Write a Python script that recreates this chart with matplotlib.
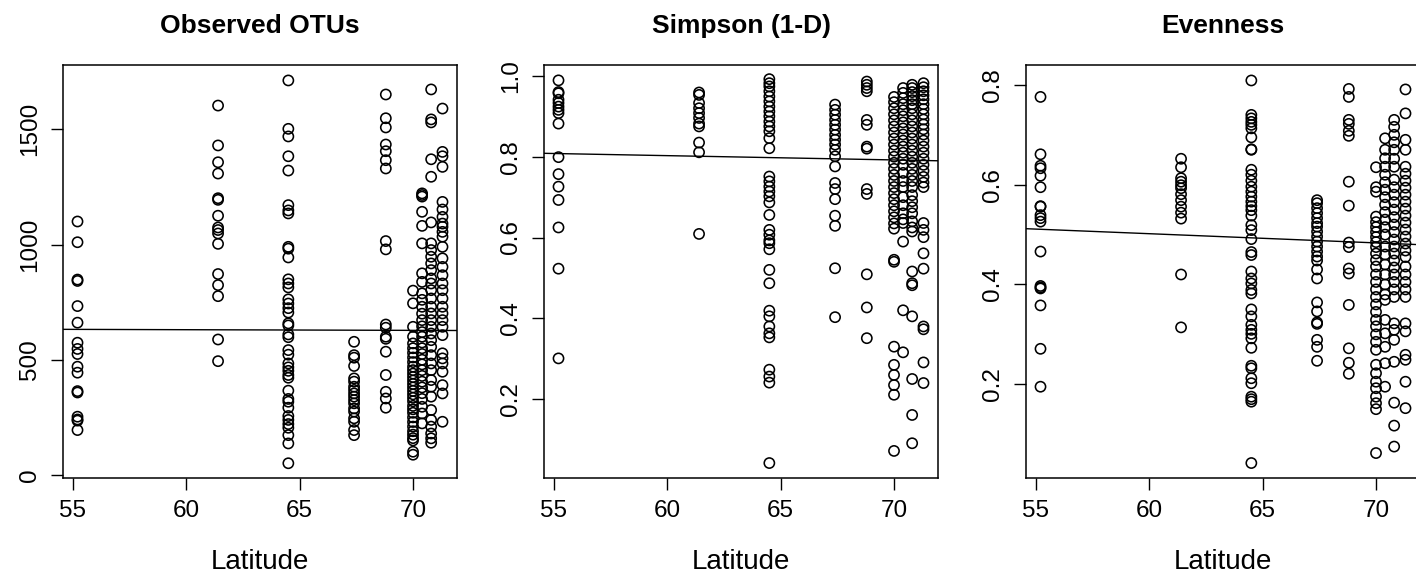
import numpy as np
import matplotlib
matplotlib.use("Agg")
import matplotlib.pyplot as plt

plt.rcParams['font.family'] = ['Liberation Sans', 'DejaVu Sans']

# sampling latitudes (one column of points per site)
lats = [55.2, 61.4, 64.5, 67.4, 68.8, 70.0, 70.4, 70.8, 71.3]

# observed OTUs per site
otus = [
    [1100, 1010, 848, 842, 733, 661, 574, 547, 525, 470, 444, 364, 358, 253, 241, 236, 195],
    [1603, 1430, 1357, 1308, 1201, 1194, 1125, 1074, 1063, 1048, 1003, 872, 824, 776, 588, 494],
    [1712, 1502, 1469, 1383, 1321, 1171, 1148, 1135, 990, 982, 944, 849, 831, 814, 762, 744,
     724, 705, 658, 649, 610, 598, 542, 522, 484, 467, 452, 434, 422, 366, 330, 318, 292, 256,
     239, 221, 205, 173, 137, 51],
    [578, 520, 509, 473, 419, 405, 383, 369, 354, 340, 325, 311, 289, 275, 246, 231, 195, 173],
    [1651, 1548, 1508, 1434, 1405, 1366, 1330, 1015, 979, 653, 639, 600, 591, 535, 434, 361, 332, 292],
    [800, 745, 643, 600, 571, 550, 530, 510, 490, 470, 455, 440, 425, 410, 395, 380, 365, 350,
     335, 320, 300, 285, 270, 250, 230, 210, 190, 175, 160, 150, 101, 88],
    [1222, 1215, 1208, 1142, 1081, 1005, 875, 838, 788, 760, 730, 700, 672, 645, 620, 600, 575,
     550, 525, 500, 480, 455, 430, 405, 380, 355, 330, 296, 267, 224],
    [1673, 1543, 1530, 1370, 1294, 1096, 1005, 976, 947, 918, 889, 853, 831, 802, 766, 730, 701,
     672, 643, 614, 585, 556, 520, 484, 455, 412, 383, 340, 282, 239, 210, 180, 159, 140],
    [1590, 1402, 1383, 1337, 1185, 1152, 1120, 1091, 1077, 1055, 1034, 990, 940, 903, 867, 831,
     802, 766, 730, 701, 672, 643, 607, 528, 506, 484, 448, 390, 354, 231],
]

# Simpson (1-D) per site
simpson = [
    [0.989, 0.960, 0.957, 0.941, 0.933, 0.924, 0.916, 0.908, 0.882, 0.799, 0.757, 0.726, 0.693,
     0.625, 0.523, 0.301],
    [0.959, 0.953, 0.933, 0.920, 0.908, 0.896, 0.882, 0.875, 0.835, 0.811, 0.609],
    [0.992, 0.982, 0.974, 0.962, 0.949, 0.937, 0.924, 0.912, 0.900, 0.887, 0.875, 0.863, 0.846,
     0.821, 0.751, 0.739, 0.726, 0.714, 0.702, 0.687, 0.656, 0.619, 0.607, 0.593, 0.586, 0.571,
     0.520, 0.487, 0.419, 0.405, 0.380, 0.363, 0.353, 0.273, 0.256, 0.241, 0.042],
    [0.929, 0.916, 0.904, 0.891, 0.879, 0.867, 0.854, 0.842, 0.830, 0.817, 0.801, 0.776, 0.735,
     0.720, 0.695, 0.654, 0.629, 0.524, 0.403],
    [0.986, 0.978, 0.970, 0.962, 0.891, 0.879, 0.825, 0.820, 0.720, 0.708, 0.509, 0.427, 0.351],
    [0.948, 0.935, 0.920, 0.905, 0.890, 0.875, 0.860, 0.845, 0.830, 0.815, 0.800, 0.785, 0.770,
     0.755, 0.740, 0.725, 0.710, 0.695, 0.680, 0.665, 0.650, 0.635, 0.622, 0.545, 0.540, 0.330,
     0.285, 0.260, 0.235, 0.211, 0.072],
    [0.970, 0.958, 0.945, 0.930, 0.915, 0.900, 0.885, 0.870, 0.855, 0.840, 0.825, 0.810, 0.795,
     0.780, 0.760, 0.740, 0.725, 0.700, 0.680, 0.660, 0.645, 0.636, 0.590, 0.420, 0.316],
    [0.978, 0.970, 0.960, 0.950, 0.940, 0.930, 0.920, 0.905, 0.890, 0.875, 0.860, 0.845, 0.830,
     0.815, 0.800, 0.785, 0.770, 0.755, 0.740, 0.725, 0.705, 0.690, 0.675, 0.660, 0.640, 0.625,
     0.615, 0.516, 0.487, 0.482, 0.405, 0.250, 0.161, 0.091],
    [0.982, 0.972, 0.962, 0.952, 0.942, 0.930, 0.918, 0.905, 0.892, 0.880, 0.868, 0.855, 0.840,
     0.825, 0.810, 0.795, 0.780, 0.765, 0.750, 0.736, 0.725, 0.636, 0.619, 0.601, 0.561, 0.523,
     0.380, 0.373, 0.291, 0.240],
]

# evenness per site
evenness = [
    [0.776, 0.661, 0.638, 0.633, 0.618, 0.595, 0.557, 0.556, 0.539, 0.533, 0.526, 0.466, 0.397,
     0.394, 0.392, 0.358, 0.271, 0.195],
    [0.652, 0.635, 0.613, 0.606, 0.599, 0.593, 0.581, 0.569, 0.556, 0.544, 0.532, 0.420, 0.314],
    [0.809, 0.740, 0.733, 0.726, 0.720, 0.713, 0.695, 0.671, 0.670, 0.630, 0.620, 0.608, 0.596,
     0.586, 0.576, 0.566, 0.557, 0.549, 0.538, 0.519, 0.509, 0.491, 0.465, 0.459, 0.426, 0.412,
     0.402, 0.389, 0.382, 0.350, 0.336, 0.319, 0.309, 0.301, 0.292, 0.273, 0.237, 0.232, 0.212,
     0.202, 0.175, 0.170, 0.165, 0.042],
    [0.569, 0.563, 0.553, 0.543, 0.533, 0.523, 0.516, 0.506, 0.496, 0.486, 0.476, 0.466, 0.456,
     0.448, 0.430, 0.412, 0.364, 0.346, 0.324, 0.321, 0.289, 0.275, 0.247],
    [0.792, 0.776, 0.730, 0.722, 0.708, 0.698, 0.606, 0.558, 0.484, 0.475, 0.432, 0.422, 0.359,
     0.272, 0.243, 0.221],
    [0.635, 0.595, 0.586, 0.536, 0.525, 0.515, 0.505, 0.495, 0.485, 0.475, 0.462, 0.449, 0.436,
     0.420, 0.405, 0.390, 0.375, 0.360, 0.345, 0.329, 0.316, 0.300, 0.285, 0.269, 0.239, 0.222,
     0.205, 0.192, 0.175, 0.162, 0.150, 0.062],
    [0.693, 0.670, 0.653, 0.636, 0.620, 0.605, 0.590, 0.575, 0.560, 0.545, 0.530, 0.515, 0.500,
     0.476, 0.460, 0.440, 0.420, 0.400, 0.380, 0.369, 0.329, 0.302, 0.275, 0.242, 0.195],
    [0.730, 0.716, 0.700, 0.685, 0.670, 0.652, 0.636, 0.610, 0.595, 0.580, 0.565, 0.550, 0.535,
     0.520, 0.505, 0.490, 0.476, 0.462, 0.448, 0.434, 0.420, 0.405, 0.390, 0.375, 0.322, 0.309,
     0.289, 0.245, 0.163, 0.117, 0.075],
    [0.791, 0.743, 0.690, 0.670, 0.636, 0.622, 0.608, 0.594, 0.580, 0.566, 0.552, 0.538, 0.524,
     0.510, 0.496, 0.482, 0.468, 0.455, 0.436, 0.420, 0.405, 0.390, 0.375, 0.322, 0.306, 0.259,
     0.249, 0.205, 0.152],
]

# regression lines, value at latitude 55 and 71
fit_x = [55, 71]
otus_fit = [631.9, 627.3]
simpson_fit = [0.808, 0.791]
evenness_fit = [0.511, 0.4815]

titles = ["Observed OTUs", "Simpson (1-D)", "Evenness"]
yticks = [[0, 500, 1000, 1500], [0.2, 0.4, 0.6, 0.8, 1.0], [0.2, 0.4, 0.6, 0.8]]
ytick_labels = [["0", "500", "1000", "1500"], ["0.2", "0.4", "0.6", "0.8", "1.0"],
                ["0.2", "0.4", "0.6", "0.8"]]
ylims = [(-13, 1779), (0.005, 1.027), (0.012, 0.840)]
xticks = [55, 60, 65, 70]

W, H = 1416, 582
fig = plt.figure(figsize=(W / 100, H / 100), dpi=100)

lefts = [63, 544, 1026]  # pixels, third panel runs off the right edge
panel_w = 394
top, bottom = 65, 478

datasets = [otus, simpson, evenness]
fits = [otus_fit, simpson_fit, evenness_fit]

for i in range(3):
    ax = fig.add_axes([lefts[i] / W, (H - bottom) / H, panel_w / W, (bottom - top) / H])
    for lat, vals in zip(lats, datasets[i]):
        ax.scatter(np.full(len(vals), lat), vals, s=54, facecolors='none',
                   edgecolors='black', linewidths=1.15, zorder=3)
    ax.axline((fit_x[0], fits[i][0]), (fit_x[1], fits[i][1]), color='black', lw=1.0, zorder=2)

    ax.set_xlim(54.56, 71.94)
    ax.set_ylim(*ylims[i])
    ax.set_xticks(xticks)
    ax.set_xticklabels([str(t) for t in xticks], fontsize=17.5)
    ax.set_yticks(yticks[i])
    ax.set_yticklabels(ytick_labels[i], fontsize=17.5, rotation=90, va='center')
    ax.tick_params(axis='both', direction='out', length=8.6, width=1.0, color='black')
    ax.tick_params(axis='x', pad=7)
    ax.tick_params(axis='y', pad=7)
    for sp in ax.spines.values():
        sp.set_linewidth(1.1)

    ax.set_title(titles[i], fontsize=19, fontweight='bold', pad=23)
    ax.set_xlabel("Latitude", fontsize=20)
    ax.xaxis.set_label_coords(0.5, -0.172)

fig.savefig("out.png", dpi=100)
